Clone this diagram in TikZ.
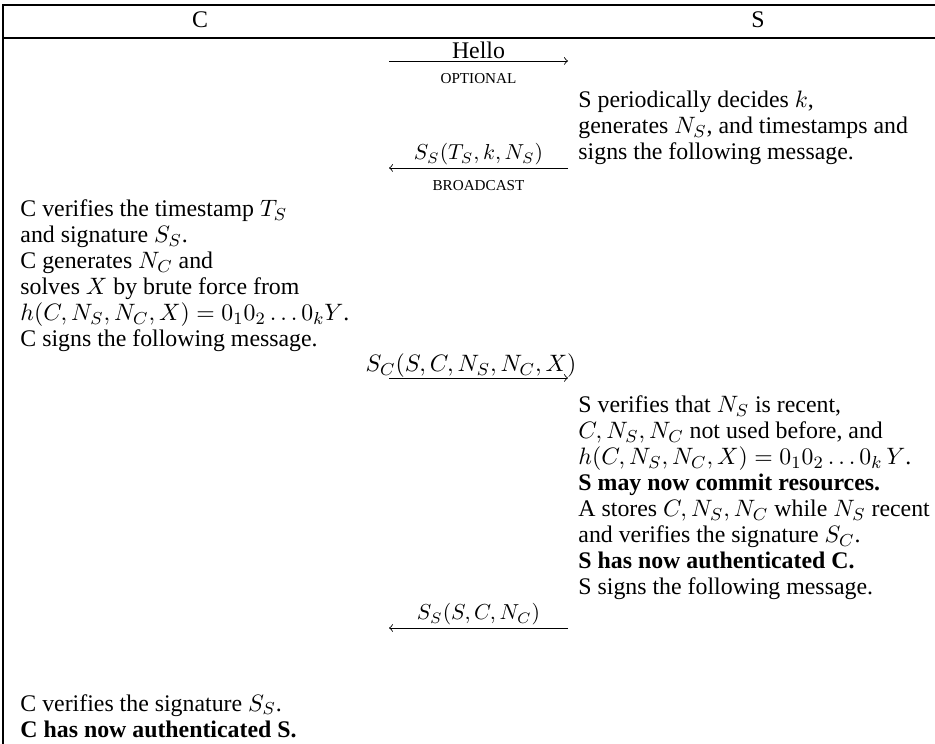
\documentclass[tikz,border=0pt]{standalone}
\usepackage[no-math]{fontspec}
\setmainfont{Liberation Serif}
\usetikzlibrary{positioning}

\newcommand{\bodysize}{\fontsize{11}{12}\selectfont}

\begin{document}
\begin{tikzpicture}[
            >=to,
            x=0.4615pt, y=-0.4615pt,
            % Styles
            toprule/.style={line width=1.3pt},
            midrule/.style={line width=0.9pt},
            head/.style={anchor=base, inner sep=0pt, font=\bodysize},
            stepbox/.style={anchor=base west, align=left, inner sep=0pt, font=\bodysize},
            msg/.style={->, line width=0.4pt},
            lab/.style={above=1pt, inner sep=0pt},
            tag/.style={below=5.5pt, inner sep=0pt, font=\scriptsize}
          ]
          \useasboundingbox (0,0) rectangle (935,744);
          % 1. Frame and header
          \draw[toprule] (3,5) -- (935,5);
          \draw[midrule] (3,38) -- (935,38);
          \draw[midrule] (3,4.4) -- (3,744);
          \node[head] (hdrC) at (200,28) {C};
          \node[head] (hdrS) at (758,28) {S};
          % 2. Message ends
          \foreach \m/\y in {hello/61, bcast/168, req/378, ack/628} {
            \coordinate (\m L) at (389,\y);
            \coordinate (\m R) at (568,\y);
          }
          % 3. Steps of C (anchored at the last line)
          \node[stepbox] (cstepA) at (20,347) {C verifies the timestamp $T_S$\\
            and signature $S_S$.\\
            C generates $N_C$ and\\
            solves $X$ by brute force from\\
            $h(C, N_S, N_C, X) = 0_1 0_2 \ldots 0_k Y$.\\
            C signs the following message.};
          \node[stepbox] (cstepB) at (20,737) {C verifies the signature $S_S$.\\
            \textbf{C has now authenticated S.}};
          % 4. Steps of S (anchored at the last line)
          \node[stepbox] (sstepA) at (578,160) {S periodically decides $k$,\\
            generates $N_S$, and timestamps and\\
            signs the following message.};
          \node[stepbox] (sstepB) at (578,595) {S verifies that $N_S$ is recent,\\
            $C, N_S, N_C$ not used before, and\\
            $h(C, N_S, N_C, X) = 0_1 0_2 \ldots 0_k\, Y$.\\
            \textbf{S may now commit resources.}\\
            A stores $C, N_S, N_C$ while $N_S$ recent\\
            and verifies the signature $S_C$.\\
            \textbf{S has now authenticated C.}\\
            S signs the following message.};
          % --- Messages ---
          \draw[msg] (helloL) -- node[lab, font=\bodysize] (helloLab) {Hello}
            node[tag] (helloTag) {OPTIONAL} (helloR);
          \draw[msg] (bcastR) -- node[lab] (bcastLab) {$S_S(T_S, k, N_S)$}
            node[tag] (bcastTag) {BROADCAST} (bcastL);
          \draw[msg] (reqL) -- (reqR);
          \node[head] (reqLab) at (471,372) {$S_C(S, C, N_S, N_C, X)$};
          \draw[msg] (ackR) -- node[lab] (ackLab) {$S_S(S, C, N_C)$} (ackL);
        \end{tikzpicture}
\end{document}
